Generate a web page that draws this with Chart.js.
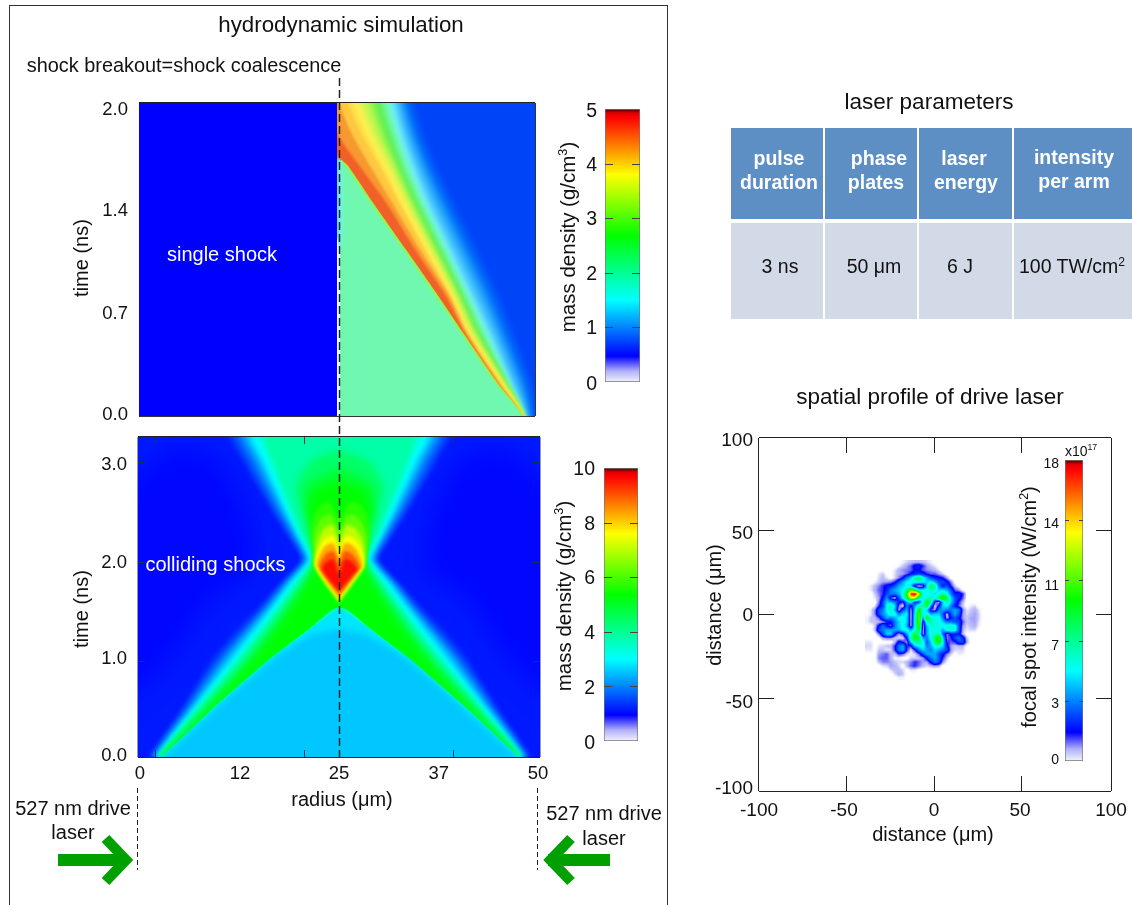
<!DOCTYPE html>
<html>
<head>
<meta charset="utf-8">
<title>hydrodynamic simulation</title>
<script src="https://cdn.jsdelivr.net/npm/chart.js@4/dist/chart.umd.min.js"></script>
<style>
  html, body { margin: 0; padding: 0; background: #fff; }
  #page { position: relative; width: 1132px; height: 905px; overflow: hidden; font-family: "Liberation Sans", Arial, sans-serif; color: #111; }
  canvas { position: absolute; display: block; }
  #frame { position: absolute; left: 9px; top: 5px; width: 659px; height: 920px; border: 1px solid #333; box-sizing: border-box; }
  svg { position: absolute; left: 0; top: 0; }
  .lbl { position: absolute; white-space: nowrap; transform: translate(-50%, -50%); line-height: 1; }
  .lbl sup { font-size: 62%; line-height: 0; }
  .cell { position: absolute; }
</style>
</head>
<body>
<div id="page">
  <div id="frame"></div>
  <canvas id="singleShock"></canvas>
  <canvas id="collidingShocks"></canvas>
  <canvas id="focalSpot"></canvas>
  <canvas id="barSingle"></canvas>
  <canvas id="barColliding"></canvas>
  <canvas id="barFocal"></canvas>
  <svg width="1132" height="905">
    <line x1="339.5" y1="78" x2="339.5" y2="757" stroke="#222" stroke-width="1.5" stroke-dasharray="8 4"/>
    <line x1="137.5" y1="788" x2="137.5" y2="870" stroke="#222" stroke-width="1" stroke-dasharray="5 3"/>
    <line x1="537.5" y1="788" x2="537.5" y2="870" stroke="#222" stroke-width="1" stroke-dasharray="5 3"/>
    <g fill="none" stroke="#00a000">
      <path d="M58 860H122M610 860H548" stroke-width="12"/>
      <path d="M105.5 838.5L126 860L105.5 881.5M571 838.5L550.5 860L571 881.5" stroke-width="10.5" stroke-miterlimit="10"/>
    </g>
  </svg>
</div>
<script>
// colour scale shared by the colorbars, fractions of the bar height
const jetStops = [[0,'#f2f2fc'],[0.04,'#b0b0f8'],[0.08,'#3030ff'],[0.095,'#0000ff'],[0.3,'#00ffff'],[0.535,'#00ff00'],[0.76,'#ffff00'],[0.97,'#ff0000'],[0.985,'#e00000'],[1,'#400000']];

// single shock panel, washed out colours in the original (g/cm3)
const singleStops = [[0,'#ffffff'],[0.42,'#0000ff'],[0.55,'#0044f8'],[0.7,'#0058f9'],[0.8,'#0070fa'],[1.2,'#30b0fc'],[1.5,'#70e8fc'],[1.75,'#70f8d8'],[2,'#70f8b0'],[2.7,'#60f050'],[3.2,'#b8f850'],[3.7,'#fff050'],[4,'#ffc840'],[4.3,'#f89830'],[4.6,'#f06028'],[4.85,'#ef4020']];
const singleT = [2.05,1.81,1.595,1.36,1.06,0.77,0.53,0.21,0];
const singleLevels = [0.7,0.8,1,1.2,1.35,1.5,1.75,2,2.35,2.7,2.95,3.2,3.45,3.7,3.85,4,4.3,4.6];
const singleContours = [
  [34.5,35.9,37.6,39.8,42.7,45.4,47.3,49.6,50.2],
  [33.8,35.2,36.9,39.1,42,44.7,46.6,49,49.7],
  [33.3,34.7,36.35,38.5,41.35,44.05,46,48.5,49.45],
  [32.85,34.2,35.8,37.85,40.7,43.4,45.45,48,49.2],
  [32.4,33.7,35.25,37.2,40.05,42.75,44.9,47.5,48.95],
  [31.9,33.2,34.7,36.6,39.4,42.1,44.3,47,48.7],
  [31.45,32.8,34.3,36.2,39,41.75,44,46.85,48.65],
  [31.05,32.4,33.9,35.85,38.7,41.45,43.65,46.7,48.6],
  [30.6,32,33.5,35.5,38.35,41.1,43.3,46.55,48.55],
  [30.2,31.6,33.1,35.1,38,40.8,43,46.4,48.5],
  [29.5,31,32.7,34.75,37.7,40.5,42.7,46.25,48.5],
  [28.8,30.45,32.3,34.4,37.35,40.25,42.45,46.15,48.45],
  [28.1,29.85,31.9,34.05,37.05,39.95,42.15,46,48.45],
  [27.4,29.3,31.5,33.7,36.7,39.7,41.9,45.9,48.4],
  [26.65,28.55,30.85,33.1,36.2,39.3,41.6,45.7,48.35],
  [25.9,28,30.4,32.9,36.1,39.3,41.55,45.6,48.3],
  [24.8,26.8,29.2,32,35.5,39.1,41.35,45.45,48.3],
  [24,25,27.9,31.25,34.9,38.7,41.15,45.3,48.3]
];
const shockFrontT = [1.64,1.595,1.36,1.06,0.77,0.53,0.21,0];
const shockFrontX = [25.25,26.1,29.25,33.4,37.4,40.6,45,48.3];
const shockFringeX = [25.5,26.45,29.6,33.75,37.75,40.95,45.3,48.5];

// colliding shocks panel: hourglass contours, left and right edge per time
const hourglassT = [0,0.25,0.5,0.75,1,1.25,1.5,1.75,2,2.25,2.5,2.75,3,3.3];
const hourglassLevels = [1.3,1.55,1.8,2.1,2.4,2.7,3,3.4,3.8];
const hourglassLeft = [
  [1.2,3.3,5.4,7.3,9.2,11.7,14.7,17.5,20.2,18.5,16.5,14.7,12.9,11.2],
  [1.45,3.55,5.7,7.65,9.7,12.25,15.1,17.75,20.4,18.75,16.85,15.1,13.4,11.75],
  [1.7,3.8,6,8,10.2,12.8,15.5,18,20.6,19,17.2,15.5,13.9,12.3],
  [1.9,4.05,6.3,8.4,10.6,13.15,15.8,18.25,20.8,19.3,17.55,15.95,14.4,12.8],
  [2.1,4.3,6.6,8.8,11,13.5,16.1,18.5,21,19.6,17.9,16.4,14.9,13.3],
  [2.25,4.5,6.85,9.15,11.45,13.9,16.4,18.75,21.2,19.8,18.2,16.75,15.3,13.75],
  [2.4,4.7,7.1,9.5,11.9,14.3,16.7,19,21.4,20,18.5,17.1,15.7,14.2],
  [2.55,4.95,7.4,9.9,12.35,14.75,17.1,19.4,21.65,20.25,18.85,17.55,16.25,15],
  [2.7,5.2,7.7,10.3,12.8,15.2,17.5,19.8,21.9,20.5,19.2,18,16.8,15.8]
];
const hourglassRight = [
  [49,46.9,44.8,42.9,41,38.5,35.5,32.7,30,31.7,33.7,35.5,37.3,39],
  [48.75,46.65,44.5,42.55,40.5,37.95,35.1,32.45,29.8,31.45,33.35,35.1,36.8,38.45],
  [48.5,46.4,44.2,42.2,40,37.4,34.7,32.2,29.6,31.2,33,34.7,36.3,37.9],
  [48.3,46.15,43.9,41.8,39.6,37.05,34.4,31.95,29.4,30.9,32.65,34.25,35.8,37.4],
  [48.1,45.9,43.6,41.4,39.2,36.7,34.1,31.7,29.2,30.6,32.3,33.8,35.3,36.9],
  [47.95,45.7,43.35,41.05,38.75,36.3,33.8,31.45,29,30.4,32,33.45,34.9,36.45],
  [47.8,45.5,43.1,40.7,38.3,35.9,33.5,31.2,28.8,30.2,31.7,33.1,34.5,36],
  [47.65,45.25,42.8,40.3,37.85,35.45,33.1,30.8,28.55,29.95,31.35,32.65,33.95,35.2],
  [47.5,45,42.5,39.9,37.4,35,32.7,30.4,28.3,29.7,31,32.2,33.4,34.4]
];
// closed outlines for the green bands, the dome and the diamond
const outlineLevels = [4.4,4.9,5.3,5.7,6.2,7,7.6,8.3,9,9.6];
const outlineX = [
  [2.8,5.5,8.1,10.8,13.4,15.8,18.1,20.3,22.1,21.2,20.3,19.6,21.5,25.1,28.7,30.6,29.9,29,28.1,29.9,32.1,34.4,36.8,39.4,42.1,44.7,47.4],
  [2.95,5.8,8.55,11.3,13.95,16.35,18.55,20.65,22.25,21.6,20.75,21,25.1,29.2,29.45,28.6,27.95,29.55,31.65,33.85,36.25,38.9,41.65,44.4,47.25],
  [3.1,6.1,9,11.8,14.5,16.9,19,21,22.4,22,21.2,22,25.1,28.2,29,28.2,27.8,29.2,31.2,33.3,35.7,38.4,41.2,44.1,47.1],
  [25,22,21.8,21.5,22.3,23.8,25,26.4,28,28.8,28.5,28.2],
  [25,22,21.9,21.9,22.8,24,25,26.2,27.4,28.4,28.4,28.2],
  [25,22.05,22.1,22.4,23.2,24.2,25,26,27,27.9,28.2,28.1],
  [25,22.1,22.2,22.7,23.5,24.3,25,25.8,26.6,27.5,28,28.1],
  [25,22.3,22.5,23.1,24,24.5,25,25.5,26,27,27.6,27.9],
  [25,22.6,22.9,23.6,24.4,25,25.6,26.4,27.2,27.6],
  [25,22.9,23.4,24.3,25,25.7,26.7,27.3]
];
const outlineT = [
  [0,0.25,0.5,0.75,1,1.25,1.5,1.75,2,2.25,2.5,2.75,3,3.1,3,2.75,2.5,2.25,2,1.75,1.5,1.25,1,0.75,0.5,0.25,0],
  [0,0.25,0.5,0.75,1,1.25,1.5,1.75,2,2.25,2.5,2.75,2.92,2.75,2.5,2.25,2,1.75,1.5,1.25,1,0.75,0.5,0.25,0],
  [0,0.25,0.5,0.75,1,1.25,1.5,1.75,2,2.25,2.5,2.7,2.78,2.7,2.5,2.25,2,1.75,1.5,1.25,1,0.75,0.5,0.25,0],
  [1.55,1.9,2.05,2.3,2.52,2.58,2.42,2.58,2.52,2.3,2.05,1.9],
  [1.56,1.92,2.05,2.25,2.42,2.45,2.3,2.45,2.42,2.25,2.05,1.92],
  [1.58,1.93,2.05,2.2,2.32,2.35,2.2,2.35,2.32,2.2,2.05,1.93],
  [1.59,1.93,2.05,2.15,2.23,2.24,2.1,2.24,2.23,2.15,2.05,1.93],
  [1.61,1.93,2.03,2.12,2.17,2.14,2.02,2.14,2.17,2.12,2.03,1.93],
  [1.65,1.92,2,2.07,2.08,1.95,2.08,2.07,2,1.92],
  [1.68,1.9,1.97,2,1.85,2,1.97,1.9]
];
// sky blue triangle under the shocks
const triangleLevels = [3.6,2.8,2.55];
const triangleX = [
  [1.7,9.4,16.5,21.3,23.9,25,26.3,28.9,33.7,40.8,48.7],
  [1.8,9.6,16.7,21.5,24,25,26.2,28.7,33.5,40.6,48.6],
  [2,9.9,17,21.7,24,25,26,28.3,33.2,40.3,48.4]
];
const triangleT = [
  [-0.1,0.5,1,1.3,1.48,1.52,1.48,1.3,1,0.5,-0.1],
  [-0.1,0.5,1,1.3,1.45,1.5,1.45,1.3,1,0.5,-0.1],
  [-0.1,0.5,1,1.24,1.28,1.3,1.28,1.24,1,0.5,-0.1]
];

// focal spot intensity (1e17 W/cm2), one row per 4 px of the picture, short rows end in zeros
const spotXRange = [-39.8, 28.4];
const spotYRange = [30.9, -37.1];
const spotRows = [
  [0,0,0,0,0,0,0,0,0,.2,.4,.5,.6,.6,.5,.4,.2],
  [0,0,0,0,0,0,0,0,.2,.5,.8,1.2,2,2.2,1.5,.8,.5,.3],
  [0,0,0,0,0,0,0,.3,.7,.9,1,1.2,1.8,1.8,1.2,.9,.8,.6,.3],
  [0,0,0,.3,.5,0,0,.4,.7,.8,1.2,1.8,2.2,2.5,2.2,1.5,1.2,1.2,.8,.4],
  [0,0,0,.4,.6,.3,0,.4,1,1.8,3.5,4.8,7,8.5,5.8,4.2,2.8,2.2,2,1.6,.8],
  [0,0,.2,.5,.8,.8,1,1.5,2.8,4.2,5.4,5.8,5.8,5.8,5.4,4.8,5.4,4.2,2.8,2.8,2,1],
  [0,.3,.6,1,1.5,2,2.2,3,4.2,4.8,5.4,4.8,1,.3,.8,4.8,8.5,7,3.5,2,2.8,1.5,.5],
  [0,.3,.7,1.2,1.5,2.2,3.5,4.2,4.8,5.4,7,11,8.5,5.4,5.4,5.8,7,5.8,4.8,4.8,4.2,2.8,1.2,.8],
  [0,0,.5,1,1.5,2.8,3.5,3.5,4.2,5.8,10,17,18,13,5.8,5.4,5.4,4.8,5.8,7,5.8,3.5,2,2.2,1.5],
  [0,0,.3,.8,2,3.8,1.2,.5,2.8,5.4,8.5,13,13,7,5.4,5.8,7,5.8,8.5,11,8.5,4.8,2.8,2.2,1.2],
  [0,0,0,1,2.8,4.8,4.2,3.5,2,1.5,4.2,5.8,2,2.8,5.8,10,7,1.5,.5,4.8,7,4.8,2.8,1.5,.6],
  [0,0,.3,1.5,2.8,5.4,7,4.8,1,.3,3.5,1.5,4.2,6.2,7,8.5,3.5,.3,2,4.8,5.4,3.5,2,1.2,.4,0,.3,.4],
  [0,.3,1,2.8,3.5,5.4,6.2,4.2,.5,2.8,4.2,.6,4.8,10,5.4,4.8,1.2,.8,3.5,4.2,3.5,3.5,4.2,3.5,1,.3,.5,.7,.3],
  [0,.3,1,2.8,3.8,4.8,6.2,5.8,3.5,4.8,5.4,.4,5.4,11,5.4,5.8,4.2,4.8,4.8,2.8,.5,2.8,4.2,2.8,.8,.4,.6,.8,.4],
  [.2,.5,.6,1.2,2.8,4.2,3.5,4.2,5.4,5.8,4.8,.4,5.8,11.5,3.5,10,6.2,5.4,5.8,3.5,.6,2,3,2,.8,.5,.8,.8,.4],
  [.2,.5,.5,.6,.8,1.5,2,3.5,4.8,5.8,4.8,.5,5.8,11.5,1,6.2,7,5.8,5.8,4.8,3.5,3.5,2.8,2.8,1.2,.5,.7,.8,.3],
  [0,0,.5,2,3.5,2,1,3.5,4.8,5.8,4.2,.5,5.8,11,.5,4.8,5.8,6.2,5.8,5.8,5.8,6.2,5.8,2.8,.8,.4,.6,.7,.2],
  [0,0,.6,2.8,3.5,4.2,4.2,4.2,4.2,5.4,5.8,4.2,5.8,9,.4,4.2,5.8,5.8,5.4,4.2,5.8,6.2,5.8,2.8,.6,.3,.4,.4],
  [0,0,0,1,2.8,4.8,4.8,2,.8,1.5,4.2,6.2,8.5,7,.5,4.2,5.8,6.2,7,2.8,1,2,2,2,.6],
  [0,0,0,0,.8,1,1,.5,.3,.4,2,7,10,8.5,4.2,3.5,5.8,8.5,11,4.8,1,1.5,2.8,3.5,2.2,.5],
  [.3,.3,0,0,0,0,0,.6,2,1.5,.8,4.8,7,7,5.8,2.8,4.8,8,10,5.4,1.5,1.2,1.5,2.8,2.8,.7],
  [.4,.4,0,.3,.4,.5,.6,1.5,3.5,4.2,1.5,1.5,4.8,5.4,5.8,3.5,4.2,5.8,5.8,4.8,2,.8,.5,.6,.6],
  [.3,.3,0,.5,.5,.3,.4,1.5,3.5,4.2,1.5,.3,1.5,3.5,4.8,4.2,3.5,4.8,4.2,3.5,2.8,.8,.4,.4,.4],
  [0,0,0,.8,1,1.2,.6,.5,1.5,1.2,.4,.2,.4,1.2,2.8,4.2,4.2,4.2,2.8,2,1,.5,0,.3,.2],
  [0,0,0,1,1.2,1.2,.6,.2,.2,0,0,.4,.4,.5,.8,2,3.5,4.2,3,1.5,.5],
  [0,0,0,.6,1,1,.8,.5,.4,.4,.6,1,1.5,1.2,.8,.8,2,3.5,2.8,.8,.2],
  [0,0,0,0,.3,.4,.8,.7,.4,0,.6,1.2,1.5,1,.6,.4,.6,.8,.6],
  [0,0,0,0,0,0,.4,.6,.6,.4,0,.3,.3],
  [0,0,0,0,0,0,0,.4,.7,.5],
  [0,0,0,0,0,0,0,0,.2,.2]
];

// axis ticks, labels sit where the original figure has them
const singleTimeTicks = [0.01,0.655,1.31,1.955];
const singleTimeLabels = ['0.0','0.7','1.4','2.0'];
const collidingTimeTicks = [0.01,0.993,1.966,2.96];
const collidingTimeLabels = ['0.0','1.0','2.0','3.0'];
const collidingTimeMarks = [0.973,1.976,2.99];
const radiusTicks = [0.25,12.7,25,37.4,49.75];
const radiusLabels = ['0','12','25','37','50'];
const radiusMarks = [2.1,20.65,39.2];
const distanceXTicks = [-100,-51.7,-0.5,48.3,100];
const distanceYTicks = [-98.8,-50.1,-0.8,45.6,98.3];
const distanceLabels = ['-100','-50','0','50','100'];
const distanceMarksX = [-50.5,-0.8,49];
const distanceMarksY = [-47.4,0.2,47.8];
const barSingleTicks = [-0.05,0.97,1.97,2.97,3.96,4.96];
const barSingleLabels = ['0','1','2','3','4','5'];
const barSingleMarks = [1,2,3,4];
const barCollidingTicks = [-0.1,1.93,3.93,5.93,7.93,9.93];
const barCollidingLabels = ['0','2','4','6','8','10'];
const barCollidingMarks = [2,4,6,8];
const barFocalTicks = [0.06,3.42,6.84,10.44,14.16,17.76];
const barFocalLabels = ['0','3','7','11','14','18'];
const barFocalMarks = [3.6,7.2,10.8,14.4];

const FONT = '"Liberation Sans", Arial, sans-serif';
Chart.defaults.font.family = FONT;
Chart.defaults.color = '#111';

function hexRgb(h) {
  return [parseInt(h.slice(1, 3), 16), parseInt(h.slice(3, 5), 16), parseInt(h.slice(5, 7), 16)];
}
function colorAt(stops, v) {
  if (v <= stops[0][0]) return hexRgb(stops[0][1]);
  for (let i = 1; i < stops.length; i++) {
    if (v <= stops[i][0]) {
      const f = (v - stops[i - 1][0]) / (stops[i][0] - stops[i - 1][0]);
      const a = hexRgb(stops[i - 1][1]), b = hexRgb(stops[i][1]);
      return [0, 1, 2].map(k => Math.round(a[k] + (b[k] - a[k]) * f));
    }
  }
  return hexRgb(stops[stops.length - 1][1]);
}
function css(rgb) { return `rgb(${rgb[0]},${rgb[1]},${rgb[2]})`; }
function points(xs, ts) { return xs.map((x, i) => ({ x, y: ts[i] })); }

// draws the ticks inside the plot and the border lines
function framePlugin(o) {
  return {
    id: 'figFrame',
    afterDatasetsDraw(chart) {
      const { ctx, chartArea: a, scales: { x, y } } = chart;
      ctx.save();
      ctx.lineWidth = 1;
      ctx.strokeStyle = o.tickColor || '#222';
      ctx.beginPath();
      (o.marksX || []).forEach(v => {
        const px = Math.round(x.getPixelForValue(v)) + 0.5;
        ctx.moveTo(px, a.top); ctx.lineTo(px, a.top + o.len);
        ctx.moveTo(px, a.bottom); ctx.lineTo(px, a.bottom - o.len);
      });
      (o.marksY || []).forEach(v => {
        const py = Math.round(y.getPixelForValue(v)) + 0.5;
        ctx.moveTo(a.left, py); ctx.lineTo(a.left + o.len, py);
        ctx.moveTo(a.right, py); ctx.lineTo(a.right - o.len, py);
      });
      ctx.stroke();
      const sides = o.sides || {};
      [['top', a.left, a.top - 0.5, a.right, a.top - 0.5], ['bottom', a.left, a.bottom + 0.5, a.right, a.bottom + 0.5],
       ['left', a.left - 0.5, a.top, a.left - 0.5, a.bottom], ['right', a.right + 0.5, a.top, a.right + 0.5, a.bottom]].forEach(s => {
        if (!sides[s[0]]) return;
        ctx.strokeStyle = sides[s[0]];
        ctx.beginPath(); ctx.moveTo(s[1], s[2]); ctx.lineTo(s[3], s[4]); ctx.stroke();
      });
      ctx.restore();
    }
  };
}

// softens the contour bands, the original is a smooth raster.
// the filler runs before this plugin's per-dataset hooks, so set the next blur after each dataset
const softenPlugin = {
  id: 'soften',
  beforeDatasetsDraw(chart) {
    const d = chart.data.datasets;
    chart.ctx.filter = `blur(${d[d.length - 1].blurPx}px)`;
  },
  afterDatasetDraw(chart, args) {
    const next = chart.data.datasets[args.index - 1];
    chart.ctx.filter = next ? `blur(${next.blurPx}px)` : 'none';
  }
};

function place(id, plot, pad) {
  const c = document.getElementById(id);
  c.width = plot.w + pad.l + pad.r;
  c.height = plot.h + pad.t + pad.b;
  c.style.left = (plot.x - pad.l) + 'px';
  c.style.top = (plot.y - pad.t) + 'px';
  return c;
}

function baseOptions(pad) {
  return {
    responsive: false,
    animation: false,
    events: [],
    layout: { padding: { top: pad.t, right: pad.r, left: 0, bottom: 0 } },
    plugins: { legend: { display: false }, tooltip: { enabled: false } }
  };
}

function tickAxis(min, max, values, labels, fontSize, padding, size, prop) {
  return {
    type: 'linear', min, max,
    grid: { display: false, drawTicks: false },
    border: { display: false },
    afterBuildTicks(s) { s.ticks = values.map(value => ({ value })); },
    afterFit(s) {
      s[prop] = size;
      // keep the plot box where we put it, labels may hang over its ends
      s.paddingTop = s.paddingBottom = s.paddingLeft = s.paddingRight = 0;
    },
    ticks: {
      autoSkip: false, maxRotation: 0, padding,
      font: { size: fontSize },
      color: '#111',
      callback(v, i) { return labels[i]; }
    }
  };
}

function contourDatasets(polys, stops) {
  // Chart.js paints the last dataset first
  return polys.slice().reverse().map(p => ({
    data: p.pts,
    showLine: true,
    fill: 'shape',
    backgroundColor: css(colorAt(stops, p.level)),
    borderWidth: 0,
    pointRadius: 0,
    tension: p.tension === undefined ? 0.25 : p.tension,
    capBezierPoints: false,
    blurPx: p.blur
  }));
}

// ---- single shock ----
const singlePolys = [
  { level: 0.55, blur: 0, tension: 0, pts: points([25, 53, 53, 25], [-0.2, -0.2, 2.2, 2.2]) }
];
singleLevels.forEach((level, i) => {
  const c = singleContours[i];
  singlePolys.push({
    level, blur: level < 4 ? 2 : 1.2,
    pts: points(c, singleT).concat(points([c[8], 24, 24], [-0.2, -0.2, 2.05]))
  });
});
singlePolys.push({ level: 3, blur: 0.7, pts: points(shockFringeX.concat([48.8, 25]), shockFrontT.concat([-0.2, -0.2])) });
singlePolys.push({ level: 2, blur: 0.5, pts: points(shockFrontX.concat([48.6, 25]), shockFrontT.concat([-0.2, -0.2])) });
singlePolys.push({ level: 1.85, blur: 2, pts: points([25, 25.2, 25.9, 25.9, 25], [1.64, 1.64, 1.45, 1.2, 1]) });
singlePolys.push({ level: 1.5, blur: 0.8, pts: points([25, 25.4, 25.5, 25.4, 25], [1.66, 1.62, 1.35, 1.1, 1]) });
singlePolys.push({ level: 0, blur: 0.4, tension: 0, pts: points([25, 25.35, 25.35, 25], [1.15, 1.05, -0.2, -0.2]) });
singlePolys.push({ level: 0.42, blur: 0, tension: 0, pts: points([-3, 25, 25, -3], [-0.2, -0.2, 2.2, 2.2]) });

const singlePad = { l: 79, r: 10, t: 13, b: 14 };
new Chart(place('singleShock', { x: 139, y: 103, w: 396, h: 313 }, singlePad), {
  type: 'scatter',
  data: { datasets: contourDatasets(singlePolys, singleStops) },
  options: Object.assign(baseOptions(singlePad), {
    layout: { padding: { top: singlePad.t, right: singlePad.r, left: 0, bottom: singlePad.b } },
    scales: {
      x: { type: 'linear', min: 0, max: 50, display: false },
      y: tickAxis(0, 2, singleTimeTicks, singleTimeLabels, 18.5, 11, singlePad.l, 'width')
    }
  }),
  plugins: [softenPlugin, framePlugin({ len: 0, sides: { top: '#222', bottom: '#333', right: '#334' } })]
});

// ---- colliding shocks ----
const collidingPolys = [
  { level: 1.15, blur: 0, tension: 0, pts: points([-3, 53, 53, -3], [-0.3, -0.3, 3.5, 3.5]) },
  { level: 1, blur: 12, pts: points([-3, 4, 9, 14, 14, 10, 4, -3], [0.5, 1, 1.6, 1.9, 2.3, 3, 3.1, 2.6]) },
  { level: 1, blur: 12, pts: points([53, 46, 41, 36, 36, 40, 46, 53], [0.5, 1, 1.6, 1.9, 2.3, 3, 3.1, 2.6]) }
];
hourglassLevels.forEach((level, i) => {
  const rev = hourglassRight[i].slice().reverse();
  const tRev = hourglassT.slice().reverse();
  collidingPolys.push({ level, blur: 2.2, tension: 0.2, pts: points(hourglassLeft[i].concat(rev), hourglassT.concat(tRev)) });
});
outlineLevels.forEach((level, i) => {
  collidingPolys.push({ level, blur: level < 5.5 ? 3.5 : 1.5, tension: level < 5.5 ? 0.2 : 0.3, pts: points(outlineX[i], outlineT[i]) });
});
triangleLevels.forEach((level, i) => {
  collidingPolys.push({ level, blur: i === 2 ? 3 : 0.7, tension: 0.1, pts: points(triangleX[i], triangleT[i]) });
});

const collidingPad = { l: 78, r: 20, t: 12, b: 40 };
const collidingStops = jetStops.map(s => [s[0] * 10, s[1]]);
new Chart(place('collidingShocks', { x: 138, y: 437, w: 402, h: 320 }, collidingPad), {
  type: 'scatter',
  data: { datasets: contourDatasets(collidingPolys, collidingStops) },
  options: Object.assign(baseOptions(collidingPad), {
    scales: {
      x: tickAxis(0, 50, radiusTicks, radiusLabels, 18.5, 6, collidingPad.b, 'height'),
      y: tickAxis(0, 3.242, collidingTimeTicks, collidingTimeLabels, 18.5, 11, collidingPad.l, 'width')
    }
  }),
  plugins: [softenPlugin, framePlugin({ len: 7, marksX: radiusMarks, marksY: collidingTimeMarks, tickColor: '#0a3a55', sides: { top: '#222', bottom: '#222', left: '#999', right: '#999' } })]
});

// ---- focal spot ----
const spotCells = [];
spotRows.forEach((row, j) => row.forEach((v, i) => spotCells.push({ x: i, y: j, v })));
const focalHeat = {
  id: 'focalHeat',
  beforeDatasetsDraw(chart) {
    const { ctx, scales: { x, y } } = chart;
    const left = x.getPixelForValue(spotXRange[0]), right = x.getPixelForValue(spotXRange[1]);
    const top = y.getPixelForValue(spotYRange[0]), bottom = y.getPixelForValue(spotYRange[1]);
    const w = Math.round(right - left), h = Math.round(bottom - top);
    const cols = 30, rows = spotRows.length;
    const off = document.createElement('canvas');
    off.width = w; off.height = h;
    const octx = off.getContext('2d');
    const img = octx.createImageData(w, h);
    const at = (r, c) => (spotRows[Math.max(0, Math.min(rows - 1, r))][Math.max(0, Math.min(cols - 1, c))] || 0);
    for (let py = 0; py < h; py++) {
      const fy = (py + 0.5) / h * rows - 0.5, r0 = Math.floor(fy), dy = fy - r0;
      for (let px = 0; px < w; px++) {
        const fx = (px + 0.5) / w * cols - 0.5, c0 = Math.floor(fx), dx = fx - c0;
        // display smoothing of the typed cells, like imshow bilinear
        const v = (at(r0, c0) * (1 - dx) + at(r0, c0 + 1) * dx) * (1 - dy) + (at(r0 + 1, c0) * (1 - dx) + at(r0 + 1, c0 + 1) * dx) * dy;
        const rgb = colorAt(jetStops, v / 18);
        const k = (py * w + px) * 4;
        img.data[k] = rgb[0]; img.data[k + 1] = rgb[1]; img.data[k + 2] = rgb[2];
        img.data[k + 3] = Math.min(255, v / 0.5 * 255);
      }
    }
    octx.putImageData(img, 0, 0);
    ctx.drawImage(off, Math.round(left), Math.round(top));
  }
};
const focalPad = { l: 69, r: 21, t: 13, b: 60 };
new Chart(place('focalSpot', { x: 759, y: 438, w: 352, h: 353 }, focalPad), {
  type: 'scatter',
  data: { datasets: [{ data: spotCells, pointRadius: 0, showLine: false, parsing: { xAxisKey: 'nope', yAxisKey: 'nope' } }] },
  options: Object.assign(baseOptions(focalPad), {
    scales: {
      x: tickAxis(-100, 100, distanceXTicks, distanceLabels, 19, 8, focalPad.b, 'height'),
      y: tickAxis(-100, 100, distanceYTicks, distanceLabels, 19, 6, focalPad.l, 'width')
    }
  }),
  plugins: [focalHeat, framePlugin({ len: 15, marksX: distanceMarksX, marksY: distanceMarksY, sides: { top: '#222', bottom: '#222', left: '#222', right: '#222' } })]
});

// ---- colorbars ----
function colorbar(id, plot, pad, max, ticks, labels, marks, fontSize, tickPad, tickLen) {
  const fill = ctx => {
    const chart = ctx.chart;
    if (!chart.chartArea) return '#00f';
    const y = chart.scales.y;
    const g = chart.ctx.createLinearGradient(0, y.getPixelForValue(0), 0, y.getPixelForValue(max));
    jetStops.forEach(s => g.addColorStop(s[0], s[1]));
    return g;
  };
  new Chart(place(id, plot, pad), {
    type: 'bar',
    data: { labels: [''], datasets: [{ data: [[0, max]], backgroundColor: fill, borderColor: '#777', borderWidth: 1, borderSkipped: false, barPercentage: 1, categoryPercentage: 1 }] },
    options: Object.assign(baseOptions(pad), {
      layout: { padding: { top: pad.t, right: pad.r, left: 0, bottom: pad.b } },
      scales: {
        x: { display: false },
        y: tickAxis(0, max, ticks, labels, fontSize, tickPad, pad.l, 'width')
      }
    }),
    plugins: [framePlugin({ len: tickLen, marksY: marks, tickColor: '#444' })]
  });
}
colorbar('barSingle', { x: 605, y: 109, w: 35, h: 273 }, { l: 30, r: 4, t: 12, b: 12 }, 5, barSingleTicks, barSingleLabels, barSingleMarks, 19.5, 8, 8);
colorbar('barColliding', { x: 604, y: 468, w: 34, h: 273 }, { l: 36, r: 4, t: 12, b: 12 }, 10, barCollidingTicks, barCollidingLabels, barCollidingMarks, 19.5, 9, 8);
colorbar('barFocal', { x: 1065, y: 460, w: 18, h: 301 }, { l: 24, r: 4, t: 10, b: 10 }, 18, barFocalTicks, barFocalLabels, barFocalMarks, 14, 6, 4);

// ---- text and the parameter table ----
const page = document.getElementById('page');
function label(html, x, y, size, opts) {
  const o = opts || {};
  const d = document.createElement('div');
  d.className = 'lbl';
  d.innerHTML = html;
  d.style.left = x + 'px';
  d.style.top = y + 'px';
  d.style.fontSize = size + 'px';
  if (o.color) d.style.color = o.color;
  if (o.bold) d.style.fontWeight = 'bold';
  if (o.rot) d.style.transform = 'translate(-50%, -50%) rotate(-90deg)';
  page.appendChild(d);
}
function cell(x, y, w, h, color) {
  const d = document.createElement('div');
  d.className = 'cell';
  d.style.cssText += `left:${x}px;top:${y}px;width:${w}px;height:${h}px;background:${color}`;
  page.appendChild(d);
}
const HEAD = '#5e8fc4', BODY = '#d2d9e7';
[[731, 92], [825, 92], [919, 93], [1014, 118]].forEach(c => {
  cell(c[0], 128, c[1], 91, HEAD);
  cell(c[0], 223, c[1], 96, BODY);
});
label('hydrodynamic simulation', 341, 25, 22.3);
label('shock breakout=shock coalescence', 184, 66, 19.9);
label('laser parameters', 929, 102, 22.5);
label('spatial profile of drive laser', 930, 397, 22.5);
label('time (ns)', 81, 258, 20, { rot: true });
label('time (ns)', 81, 609, 20, { rot: true });
label('mass density (g/cm<sup>3</sup>)', 568, 237, 20.5, { rot: true });
label('mass density (g/cm<sup>3</sup>)', 564, 596, 20.5, { rot: true });
label('radius (μm)', 342, 799, 20);
label('single shock', 222, 254, 20, { color: '#fff' });
label('colliding shocks', 215.5, 564, 20, { color: '#fff' });
label('527 nm drive', 73, 808, 20);
label('laser', 73, 832, 20);
label('527 nm drive', 604, 813, 20);
label('laser', 604, 838, 20);
label('distance (μm)', 714, 605, 20, { rot: true });
label('distance (μm)', 933, 834, 20);
label('focal spot intensity (W/cm<sup>2</sup>)', 1029, 607, 20, { rot: true });
label('x10<sup>17</sup>', 1081, 451, 14);
[['pulse', 779, 159], ['duration', 779, 183], ['phase', 879, 159], ['plates', 876, 183], ['laser', 964, 159], ['energy', 966, 183], ['intensity', 1074, 158], ['per arm', 1074, 182]].forEach(t => {
  label(t[0], t[1], t[2], 19.5, { bold: true, color: '#fff' });
});
[['3 ns', 780], ['50 μm', 874], ['6 J', 960], ['100 TW/cm<sup>2</sup>', 1072]].forEach(t => label(t[0], t[1], 267, 19.5));
</script>
</body>
</html>
